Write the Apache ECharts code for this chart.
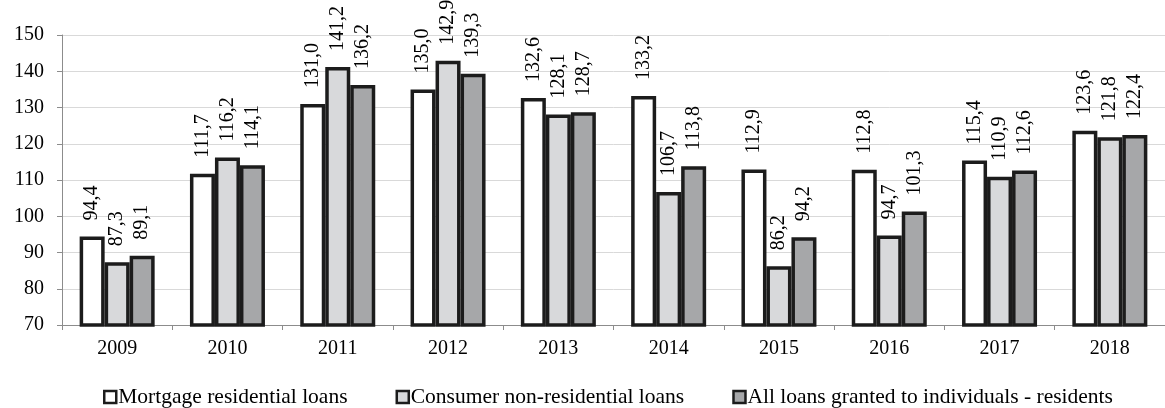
<!DOCTYPE html>
<html>
<head>
<meta charset="utf-8">
<script src="https://cdn.jsdelivr.net/npm/echarts@6/dist/echarts.min.js"></script>
<style>
  html, body { margin: 0; padding: 0; background: #fff; }
  #chart { width: 1165px; height: 408px; }
</style>
</head>
<body>
<div id="chart"></div>
<script>
// Loan index by year, three loan categories
const years = ['2009', '2010', '2011', '2012', '2013', '2014', '2015', '2016', '2017', '2018'];
const mortgage = [94.4, 111.7, 131.0, 135.0, 132.6, 133.2, 112.9, 112.8, 115.4, 123.6];
const consumer = [87.3, 116.2, 141.2, 142.9, 128.1, 106.7, 86.2, 94.7, 110.9, 121.8];
const allLoans = [89.1, 114.1, 136.2, 139.3, 128.7, 113.8, 94.2, 101.3, 112.6, 122.4];
const seriesNames = [
  'Mortgage residential loans',
  'Consumer non-residential loans',
  'All loans granted to individuals - residents'
];

const FONT = '"Liberation Serif", "Times New Roman", serif';

function fmt(v) {
  return v.toFixed(1).replace('.', ',');
}

function barSeries(name, data, color) {
  return {
    name: name,
    type: 'bar',
    data: data,
    barWidth: 25,
    barGap: '0%',
    itemStyle: { color: color, borderColor: '#1c1c1c', borderWidth: 3.5 },
    label: {
      show: true,
      position: 'top',
      rotate: 90,
      align: 'left',
      verticalAlign: 'middle',
      distance: 16,
      color: '#000',
      fontFamily: FONT,
      fontSize: 20,
      formatter: p => fmt(p.value)
    }
  };
}

const chart = echarts.init(document.getElementById('chart'), null, { renderer: 'canvas' });
chart.setOption({
  animation: false,
  backgroundColor: '#fff',
  grid: { left: 62, right: -8, top: 35, bottom: 83, containLabel: false },
  legend: {
    top: 386,
    left: 103,
    icon: 'rect',
    itemWidth: 12,
    itemHeight: 12,
    itemGap: 48,
    padding: 0,
    textStyle: { fontFamily: FONT, fontSize: 21.5, color: '#000', padding: [0, 0, 0, -3] },
    itemStyle: { borderColor: '#1c1c1c', borderWidth: 2.5 },
    data: seriesNames
  },
  xAxis: {
    type: 'category',
    data: years,
    axisLine: { lineStyle: { color: '#8c8c8c', width: 1 } },
    axisTick: { show: true, length: 5, lineStyle: { color: '#8c8c8c' } },
    axisLabel: { fontFamily: FONT, fontSize: 20, color: '#000', margin: 14 }
  },
  yAxis: {
    type: 'value',
    min: 70,
    max: 150,
    interval: 10,
    axisLine: { show: true, lineStyle: { color: '#8c8c8c', width: 1 } },
    axisTick: { show: true, length: 5, lineStyle: { color: '#8c8c8c' } },
    axisLabel: { fontFamily: FONT, fontSize: 20, color: '#000', margin: 18 },
    splitLine: { lineStyle: { color: '#d9d9d9', width: 1 } }
  },
  series: [
    barSeries(seriesNames[0], mortgage, '#ffffff'),
    barSeries(seriesNames[1], consumer, '#d8d9db'),
    barSeries(seriesNames[2], allLoans, '#a6a7a9')
  ]
});
</script>
</body>
</html>
